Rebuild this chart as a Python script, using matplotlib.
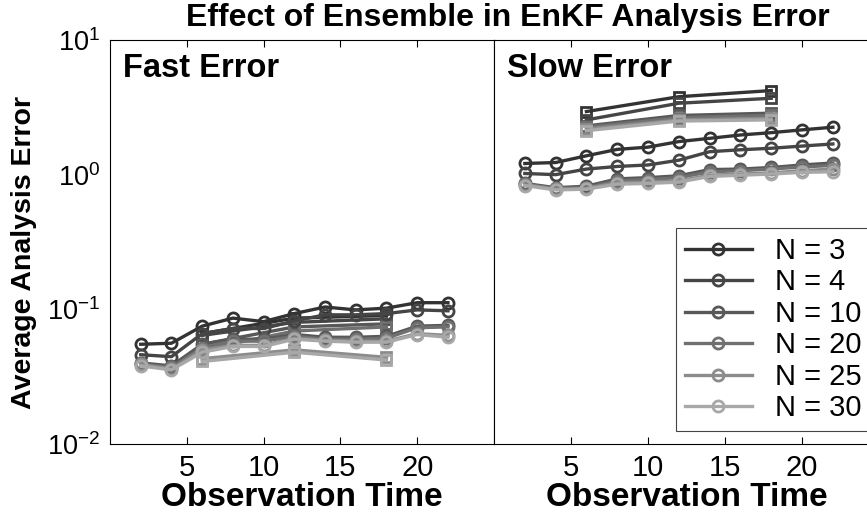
import matplotlib.pyplot as plt
import numpy as np

plt.rcParams['font.family'] = ['Liberation Sans', 'DejaVu Sans']
plt.rcParams['mathtext.fontset'] = 'custom'
plt.rcParams['mathtext.rm'] = 'Liberation Sans'
plt.rcParams['mathtext.it'] = 'Liberation Sans:italic'
plt.rcParams['mathtext.bf'] = 'Liberation Sans:bold'

obs_times = [2, 4, 6, 8, 10, 12, 14, 16, 18, 20, 22]
obs_times_sq = [6, 12, 18]
ensembles = ["N = 3", "N = 4", "N = 10", "N = 20", "N = 25", "N = 30"]
colors = ["#333333", "#454545", "#585858", "#707070", "#8c8c8c", "#a8a8a8"]

# fast error, circle runs
fast_n3 = [0.055, 0.056, 0.075, 0.086, 0.081, 0.093, 0.104, 0.099, 0.102, 0.112, 0.112]
fast_n4 = [0.046, 0.0445, 0.066, 0.072, 0.072, 0.082, 0.091, 0.091, 0.093, 0.099, 0.0975]
fast_n10 = [0.040, 0.038, 0.055, 0.060, 0.060, 0.065, 0.062, 0.062, 0.063, 0.075, 0.076]
fast_n20 = [0.039, 0.037, 0.052, 0.058, 0.058, 0.063, 0.060, 0.060, 0.061, 0.073, 0.074]
fast_n25 = [0.039, 0.036, 0.050, 0.054, 0.054, 0.061, 0.059, 0.058, 0.058, 0.066, 0.064]
fast_n30 = [0.038, 0.0355, 0.048, 0.053, 0.053, 0.060, 0.058, 0.057, 0.057, 0.065, 0.062]
# fast error, square runs
fast_sq_n3 = [0.066, 0.086, 0.090]
fast_sq_n4 = [0.064, 0.080, 0.085]
fast_sq_n10 = [0.055, 0.074, 0.078]
fast_sq_n20 = [0.050, 0.069, 0.074]
fast_sq_n25 = [0.043, 0.050, 0.044]
fast_sq_n30 = [0.041, 0.048, 0.042]

# slow error, circle runs
slow_n3 = [1.21, 1.23, 1.38, 1.54, 1.60, 1.76, 1.86, 1.97, 2.05, 2.15, 2.25]
slow_n4 = [1.02, 1.00, 1.10, 1.15, 1.18, 1.28, 1.48, 1.53, 1.57, 1.63, 1.69]
slow_n10 = [0.86, 0.80, 0.82, 0.93, 0.95, 0.98, 1.09, 1.10, 1.13, 1.18, 1.22]
slow_n20 = [0.85, 0.79, 0.80, 0.90, 0.92, 0.95, 1.05, 1.07, 1.10, 1.14, 1.17]
slow_n25 = [0.84, 0.78, 0.79, 0.87, 0.88, 0.90, 0.99, 1.01, 1.03, 1.07, 1.10]
slow_n30 = [0.83, 0.77, 0.78, 0.85, 0.86, 0.88, 0.97, 0.99, 1.01, 1.04, 1.05]
# slow error, square runs
slow_sq_n3 = [2.94, 3.79, 4.21]
slow_sq_n4 = [2.55, 3.39, 3.69]
slow_sq_n10 = [2.30, 2.75, 2.86]
slow_sq_n20 = [2.25, 2.65, 2.75]
slow_sq_n25 = [2.18, 2.55, 2.62]
slow_sq_n30 = [2.12, 2.50, 2.55]

fast_circ = [fast_n3, fast_n4, fast_n10, fast_n20, fast_n25, fast_n30]
fast_sq = [fast_sq_n3, fast_sq_n4, fast_sq_n10, fast_sq_n20, fast_sq_n25, fast_sq_n30]
slow_circ = [slow_n3, slow_n4, slow_n10, slow_n20, slow_n25, slow_n30]
slow_sq = [slow_sq_n3, slow_sq_n4, slow_sq_n10, slow_sq_n20, slow_sq_n25, slow_sq_n30]

fig = plt.figure(figsize=(8.67, 5.15), dpi=100)
ax1 = fig.add_axes([0.1269, 0.1379, 0.4429, 0.7845])
ax2 = fig.add_axes([0.5698, 0.1379, 0.4441, 0.7845])

for ax, circ, sq, name in [(ax1, fast_circ, fast_sq, "Fast Error"),
                           (ax2, slow_circ, slow_sq, "Slow Error")]:
    for i in range(len(ensembles)):
        ax.plot(obs_times_sq, sq[i], color=colors[i], lw=2.4, marker='s',
                ms=7, mfc='none', mew=2)
    for i in range(len(ensembles)):
        ax.plot(obs_times, circ[i], color=colors[i], lw=2.4, marker='o',
                ms=8, mfc='none', mew=2, label=ensembles[i])
    ax.set_yscale('log')
    ax.set_ylim(1e-2, 1e1)
    ax.set_xlim(0, 25)
    ax.set_xticks([5, 10, 15, 20])
    ax.tick_params(axis='x', direction='in', top=True, labelsize=21, length=5, pad=7)
    ax.set_xlabel("Observation Time", fontsize=24, fontweight='bold', labelpad=0)
    ax.text(0.033, 0.968, name, transform=ax.transAxes, fontsize=23.5,
            fontweight='bold', va='top', ha='left')
    for s in ax.spines.values():
        s.set_linewidth(0.8)

ax1.tick_params(axis='y', which='both', direction='in', right=False, labelsize=19.5, length=0, pad=7)
ax1.set_yticks([1e-2, 1e-1, 1e0, 1e1])
ax1.set_yticklabels([r'$10^{-2}$', r'$10^{-1}$', r'$10^{0}$', r'$10^{1}$'])
ax1.tick_params(axis='y', which='minor', length=0)
ax1.set_ylabel("Average Analysis Error", fontsize=20.5, fontweight='bold')
ax1.yaxis.set_label_coords(-0.19, 0.475)

ax2.tick_params(axis='y', which='both', left=False, right=False, labelleft=False)

leg = ax2.legend(loc='lower right', bbox_to_anchor=(1.0, 0.01), fontsize=21,
                 handlelength=2.3, handletextpad=0.8, borderpad=0.3, labelspacing=0.12,
                 fancybox=False, framealpha=1, edgecolor='#444444', borderaxespad=0.3)
leg.get_frame().set_linewidth(0.8)

fig.text(0.586, 0.965, "Effect of Ensemble in EnKF Analysis Error", ha='center',
         va='center', fontsize=23, fontweight='bold')

fig.savefig("out.png", dpi=100)
